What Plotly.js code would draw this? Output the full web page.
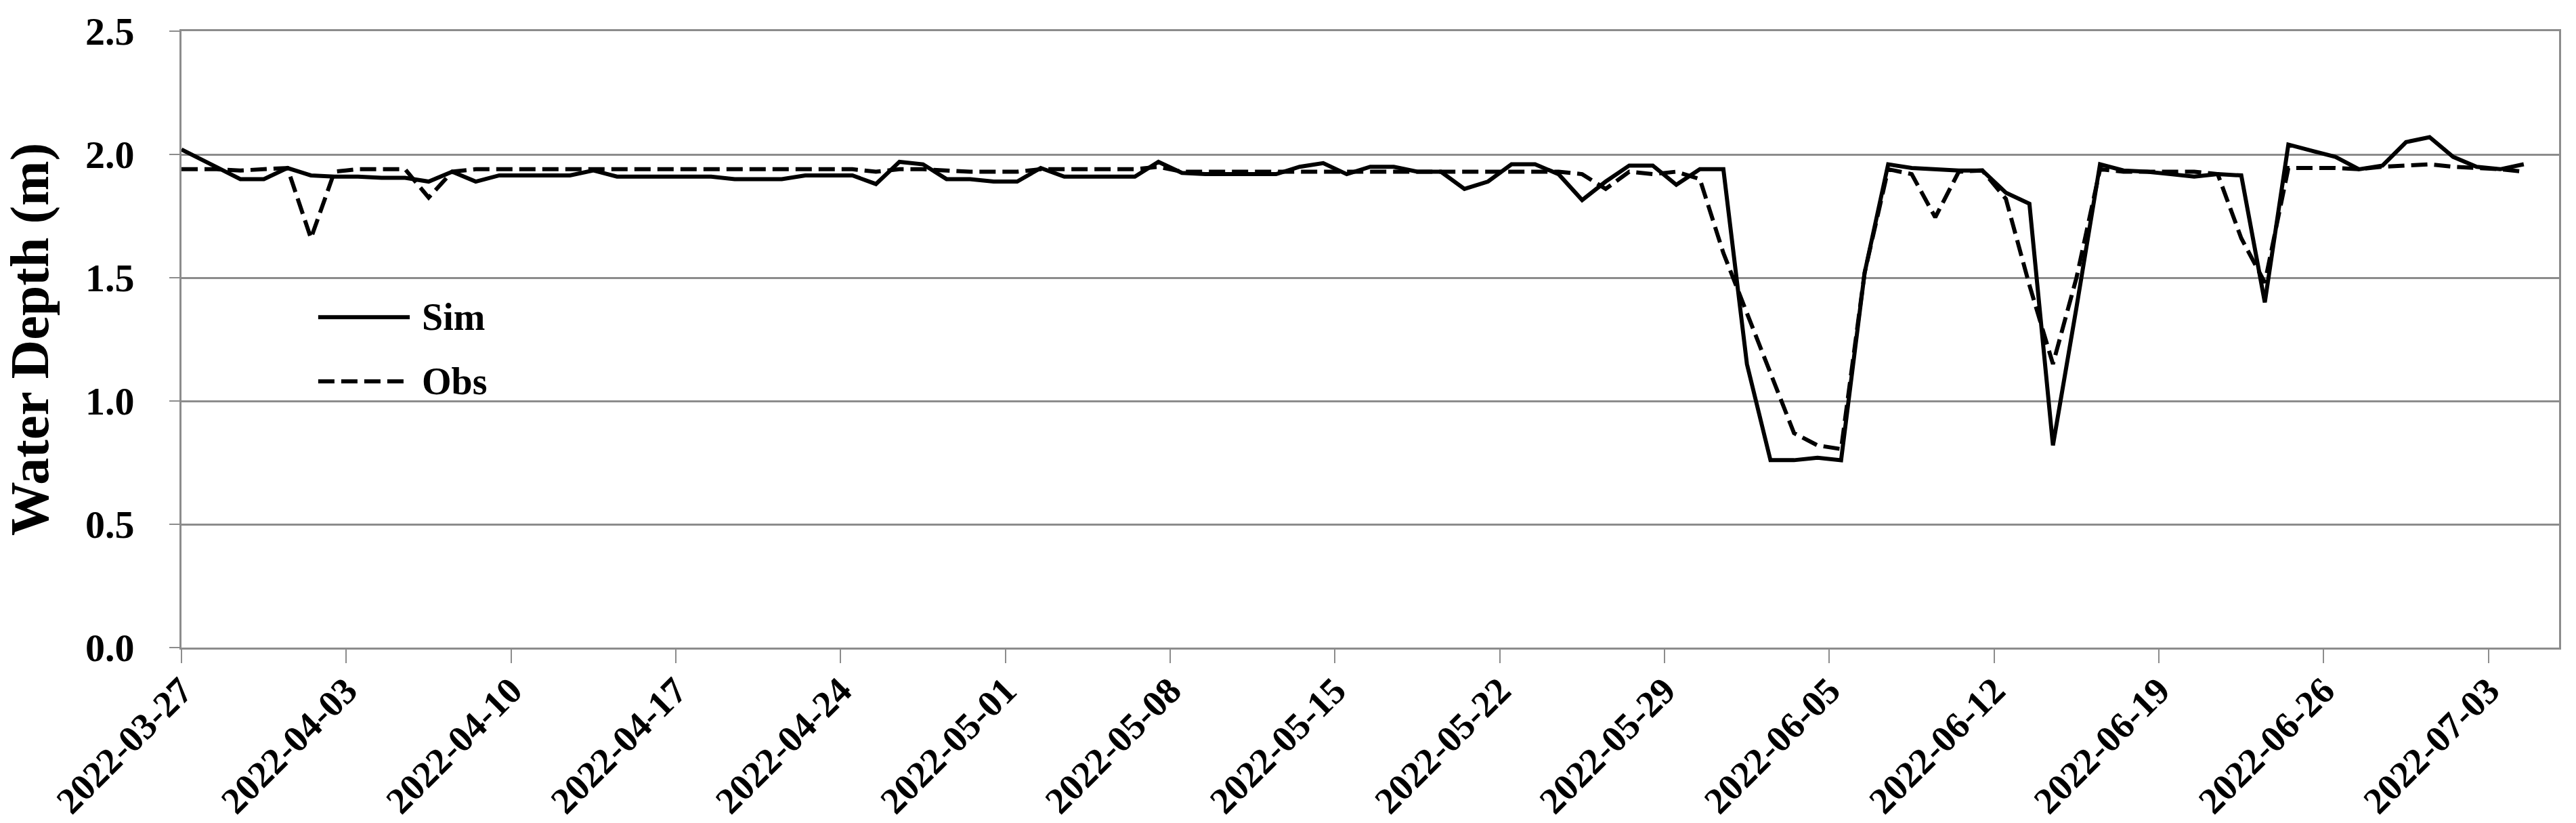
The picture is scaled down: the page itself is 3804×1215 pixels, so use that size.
<!DOCTYPE html>
<html>
<head>
<meta charset="utf-8">
<script src="https://cdn.plot.ly/plotly-3.0.1.min.js"></script>
<style>
  html, body { margin: 0; padding: 0; background: #fff; }
  #chart { width: 3804px; height: 1215px; }
</style>
</head>
<body>
<div id="chart"></div>
<script>
// first reading sits on the axis, later ones at midday
const dates = [
  '2022-03-27 00:00', '2022-03-28 12:00', '2022-03-29 12:00', '2022-03-30 12:00', '2022-03-31 12:00',
  '2022-04-01 12:00', '2022-04-02 12:00', '2022-04-03 12:00', '2022-04-04 12:00', '2022-04-05 12:00',
  '2022-04-06 12:00', '2022-04-07 12:00', '2022-04-08 12:00', '2022-04-09 12:00', '2022-04-10 12:00',
  '2022-04-11 12:00', '2022-04-12 12:00', '2022-04-13 12:00', '2022-04-14 12:00', '2022-04-15 12:00',
  '2022-04-16 12:00', '2022-04-17 12:00', '2022-04-18 12:00', '2022-04-19 12:00', '2022-04-20 12:00',
  '2022-04-21 12:00', '2022-04-22 12:00', '2022-04-23 12:00', '2022-04-24 12:00', '2022-04-25 12:00',
  '2022-04-26 12:00', '2022-04-27 12:00', '2022-04-28 12:00', '2022-04-29 12:00', '2022-04-30 12:00',
  '2022-05-01 12:00', '2022-05-02 12:00', '2022-05-03 12:00', '2022-05-04 12:00', '2022-05-05 12:00',
  '2022-05-06 12:00', '2022-05-07 12:00', '2022-05-08 12:00', '2022-05-09 12:00', '2022-05-10 12:00',
  '2022-05-11 12:00', '2022-05-12 12:00', '2022-05-13 12:00', '2022-05-14 12:00', '2022-05-15 12:00',
  '2022-05-16 12:00', '2022-05-17 12:00', '2022-05-18 12:00', '2022-05-19 12:00', '2022-05-20 12:00',
  '2022-05-21 12:00', '2022-05-22 12:00', '2022-05-23 12:00', '2022-05-24 12:00', '2022-05-25 12:00',
  '2022-05-26 12:00', '2022-05-27 12:00', '2022-05-28 12:00', '2022-05-29 12:00', '2022-05-30 12:00',
  '2022-05-31 12:00', '2022-06-01 12:00', '2022-06-02 12:00', '2022-06-03 12:00', '2022-06-04 12:00',
  '2022-06-05 12:00', '2022-06-06 12:00', '2022-06-07 12:00', '2022-06-08 12:00', '2022-06-09 12:00',
  '2022-06-10 12:00', '2022-06-11 12:00', '2022-06-12 12:00', '2022-06-13 12:00', '2022-06-14 12:00',
  '2022-06-15 12:00', '2022-06-16 12:00', '2022-06-17 12:00', '2022-06-18 12:00', '2022-06-19 12:00',
  '2022-06-20 12:00', '2022-06-21 12:00', '2022-06-22 12:00', '2022-06-23 12:00', '2022-06-24 12:00',
  '2022-06-25 12:00', '2022-06-26 12:00', '2022-06-27 12:00', '2022-06-28 12:00', '2022-06-29 12:00',
  '2022-06-30 12:00', '2022-07-01 12:00', '2022-07-02 12:00', '2022-07-03 12:00', '2022-07-04 12:00'
];

const simDepth = [
  2.02, 1.95, 1.90, 1.90, 1.945, 1.915, 1.91, 1.91, 1.905, 1.905,
  1.89, 1.93, 1.89, 1.915, 1.915, 1.915, 1.915, 1.935, 1.91, 1.91,
  1.91, 1.91, 1.91, 1.90, 1.90, 1.90, 1.915, 1.915, 1.915, 1.88,
  1.97, 1.96, 1.90, 1.90, 1.89, 1.89, 1.945, 1.91, 1.91, 1.91,
  1.91, 1.97, 1.925, 1.92, 1.92, 1.92, 1.92, 1.95, 1.965, 1.92,
  1.95, 1.95, 1.93, 1.93, 1.86, 1.89, 1.96, 1.96, 1.92, 1.815,
  1.89, 1.955, 1.955, 1.877, 1.94, 1.94, 1.15, 0.76, 0.76, 0.77,
  0.76, 1.52, 1.96, 1.945, 1.94, 1.935, 1.935, 1.845, 1.80, 0.82,
  1.38, 1.96, 1.935, 1.93, 1.92, 1.91, 1.92, 1.915, 1.40, 2.04,
  2.015, 1.99, 1.94, 1.955, 2.05, 2.07, 1.99, 1.95, 1.94, 1.96
];

const obsDepth = [
  1.94, 1.94, 1.935, 1.94, 1.945, 1.66, 1.93, 1.94, 1.94, 1.94,
  1.825, 1.93, 1.94, 1.94, 1.94, 1.94, 1.94, 1.94, 1.94, 1.94,
  1.94, 1.94, 1.94, 1.94, 1.94, 1.94, 1.94, 1.94, 1.94, 1.93,
  1.94, 1.94, 1.935, 1.93, 1.93, 1.93, 1.94, 1.94, 1.94, 1.94,
  1.94, 1.95, 1.93, 1.93, 1.93, 1.93, 1.93, 1.93, 1.93, 1.93,
  1.93, 1.93, 1.93, 1.93, 1.93, 1.93, 1.93, 1.93, 1.93, 1.92,
  1.86, 1.93, 1.92, 1.93, 1.90, 1.60, 1.36, 1.12, 0.87, 0.82,
  0.805, 1.52, 1.94, 1.92, 1.745, 1.93, 1.935, 1.82, 1.47, 1.15,
  1.50, 1.94, 1.93, 1.93, 1.93, 1.93, 1.92, 1.66, 1.48, 1.945,
  1.945, 1.945, 1.94, 1.95, 1.955, 1.96, 1.95, 1.945, 1.94, 1.93
];

const yTicks = [0, 0.5, 1.0, 1.5, 2.0, 2.5];
const seriesNames = ['Sim', 'Obs'];

const FONT = 'Liberation Serif, Times New Roman, serif';
const GRID = '#8c8c8c';

const traces = [
  {
    x: dates,
    y: simDepth,
    name: seriesNames[0],
    type: 'scatter',
    mode: 'lines',
    line: { color: '#000000', width: 6 }
  },
  {
    x: dates,
    y: obsDepth,
    name: seriesNames[1],
    type: 'scatter',
    mode: 'lines',
    line: { color: '#000000', width: 6, dash: '24px,10px' }
  }
];

// legend drawn by hand: Plotly's legend swatch is too short
const legendShapes = [
  { type: 'line', xref: 'paper', yref: 'paper', x0: 0.0575, x1: 0.096, y0: 0.536, y1: 0.536,
    line: { color: '#000000', width: 6 } },
  { type: 'line', xref: 'paper', yref: 'paper', x0: 0.0575, x1: 0.096, y0: 0.432, y1: 0.432,
    line: { color: '#000000', width: 6, dash: '24px,10px' } }
];

const legendLabels = [
  { xref: 'paper', yref: 'paper', x: 0.1005, y: 0.536, xanchor: 'left', yanchor: 'middle',
    text: seriesNames[0], showarrow: false,
    font: { family: FONT, size: 56, color: '#000000', weight: 700 } },
  { xref: 'paper', yref: 'paper', x: 0.1005, y: 0.432, xanchor: 'left', yanchor: 'middle',
    text: seriesNames[1], showarrow: false,
    font: { family: FONT, size: 56, color: '#000000', weight: 700 } }
];

const layout = {
  width: 3804,
  height: 1215,
  margin: { l: 268, r: 25, t: 46, b: 259 },
  paper_bgcolor: '#ffffff',
  plot_bgcolor: '#ffffff',
  showlegend: false,
  font: { family: FONT, color: '#000000', weight: 700 },
  xaxis: {
    type: 'date',
    range: ['2022-03-27', '2022-07-06'],
    tick0: '2022-03-27',
    dtick: 7 * 86400000,
    tickformat: '%Y-%m-%d',
    tickangle: -45,
    ticks: 'outside',
    ticklen: 20,
    tickwidth: 2,
    tickcolor: GRID,
    ticklabelstandoff: -14,
    tickfont: { family: FONT, size: 55, color: '#000000', weight: 700 },
    showgrid: false,
    showline: true,
    linecolor: GRID,
    linewidth: 3,
    mirror: true,
    zeroline: false
  },
  yaxis: {
    range: [0, 2.5],
    tickvals: yTicks,
    tickformat: '.1f',
    ticks: 'outside',
    ticklen: 15,
    tickwidth: 2,
    tickcolor: GRID,
    ticklabelstandoff: 40,
    tickfont: { family: FONT, size: 58, color: '#000000', weight: 700 },
    showgrid: true,
    gridcolor: GRID,
    gridwidth: 3,
    showline: true,
    linecolor: GRID,
    linewidth: 3,
    mirror: true,
    zeroline: false,
    title: {
      text: 'Water Depth (m)',
      font: { family: FONT, size: 80, color: '#000000', weight: 700 },
      standoff: 30
    }
  },
  shapes: legendShapes,
  annotations: legendLabels
};

Plotly.newPlot('chart', traces, layout, { displayModeBar: false, staticPlot: true });
</script>
</body>
</html>
